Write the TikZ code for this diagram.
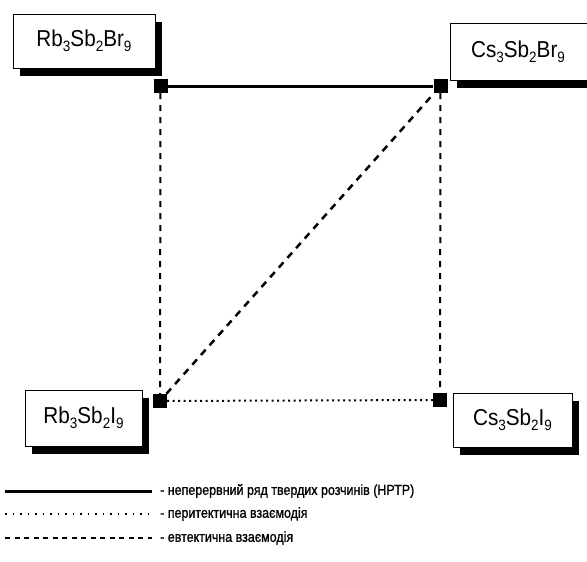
\documentclass[tikz,border=0pt]{standalone}
\usepackage{fontspec}
\setmainfont{Liberation Sans}
\newfontfamily\narrowfont[FakeStretch=0.9]{Liberation Sans}
\newfontfamily\legfont[FakeStretch=0.86,FakeBold=1.1]{Liberation Sans}
\newcommand{\chemsub}[1]{\raisebox{-0.45ex}{\fontsize{15}{15}\selectfont #1}}
\usetikzlibrary{shadows}
\tikzset{
  x=1pt,y=-1pt,
  compbox/.style={draw,line width=1pt,fill=white,inner sep=0pt,font=\narrowfont\fontsize{23}{26}\selectfont,
    general shadow={fill=black,shadow xshift=7pt,shadow yshift=-7.5pt}},
  marker/.style={fill=black,draw=none,minimum size=14pt,inner sep=0pt,rectangle},
  solidline/.style={line width=3pt},
  vdash/.style={line width=2pt,dash pattern=on 6pt off 6pt},
  ddash/.style={line width=2.5pt,dash pattern=on 7pt off 6pt},
  dotline/.style={line width=2pt,dash pattern=on 2pt off 3.5pt},
  legsolid/.style={line width=3pt},
  legdot/.style={line width=1.5pt,dash pattern=on 1.5pt off 6pt},
  legdash/.style={line width=2.5pt,dash pattern=on 5pt off 4.5pt},
  legtext/.style={anchor=west,inner sep=0pt,font=\legfont\fontsize{14.5}{16}\selectfont}
}
\begin{document}
\begin{tikzpicture}
\useasboundingbox[fill=white] (0,0) rectangle (587,562);
% boxes
\node[compbox,minimum width=142pt,minimum height=54pt] (rbbr) at (84,41) {Rb\chemsub{3}Sb\chemsub{2}Br\chemsub{9}};
\node[compbox,minimum width=140pt,minimum height=57pt] (csbr) at (520,51.5) {Cs\chemsub{3}Sb\chemsub{2}Br\chemsub{9}\hspace*{4pt}};
\node[compbox,minimum width=117pt,minimum height=56pt] (rbi) at (83.5,418) {Rb\chemsub{3}Sb\chemsub{2}I\chemsub{9}};
\node[compbox,minimum width=119pt,minimum height=54pt] (csi) at (512.5,420) {Cs\chemsub{3}Sb\chemsub{2}I\chemsub{9}};
% markers
\node[marker] (m1) at (160.5,86) {};
\node[marker] (m2) at (440.5,86) {};
\node[marker] (m3) at (160,401) {};
\node[marker] (m4) at (440,400) {};
% connectors
\draw[solidline] (m1) -- (m2);
\draw[vdash] (m1) -- (m3);
\draw[vdash] (m2) -- (m4);
\draw[ddash] (m3) -- (m2);
\draw[dotline] (m3) -- (m4);
% legend
\coordinate (l1a) at (5,491);
\coordinate (l1b) at (152,491);
\coordinate (l2a) at (5,514);
\coordinate (l2b) at (152,514);
\coordinate (l3a) at (5,538);
\coordinate (l3b) at (152,538);
\draw[legsolid] (l1a) -- (l1b);
\draw[legdot] (l2a) -- (l2b);
\draw[legdash] (l3a) -- (l3b);
\node[legtext] (t1) at (160,491) {- неперервний ряд твердих розчинів (НРТР)};
\node[legtext] (t2) at (160,514) {- перитектична взаємодія};
\node[legtext] (t3) at (160,538) {- евтектична взаємодія};
\end{tikzpicture}
\end{document}
